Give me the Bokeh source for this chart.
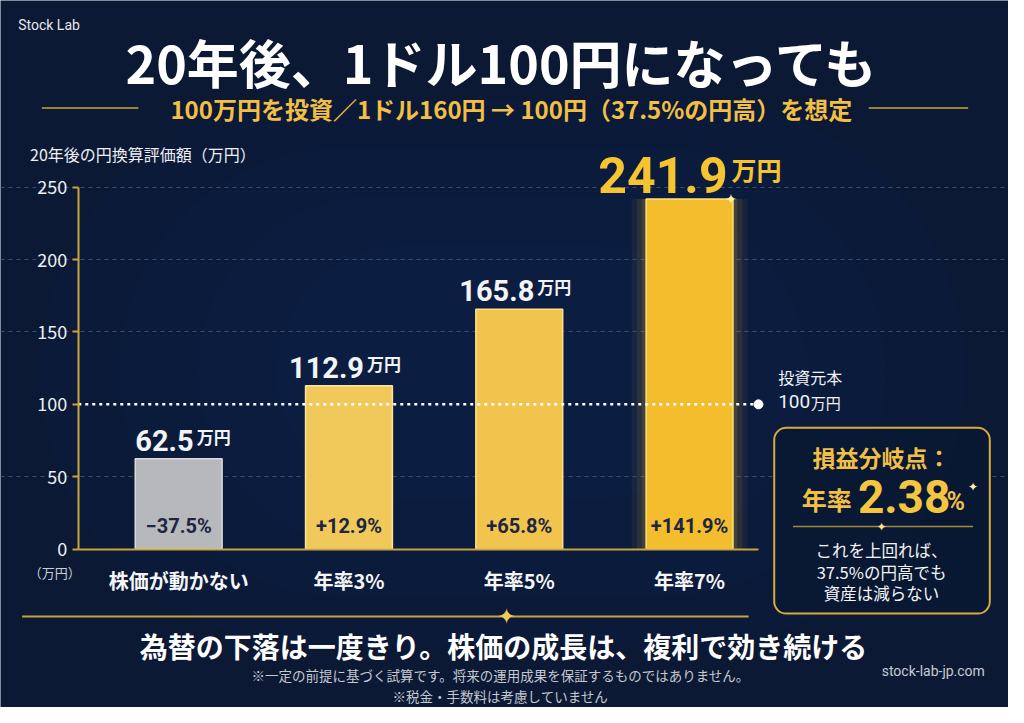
from bokeh.plotting import figure
from bokeh.models import (ColumnDataSource, Range1d, LinearAxis, FixedTicker,
                          Label, BoxAnnotation, Grid)
from bokeh.core.properties import value
from bokeh.embed import file_html
from bokeh.resources import INLINE

# data
categories = ["株価が動かない", "年率3%", "年率5%", "年率7%"]
values = [62.5, 112.9, 165.8, 241.9]       # 万円, after 20 years
y_ticks = [0, 50, 100, 150, 200, 250]
principal = 100                            # 投資元本
breakeven = "2.38"

changes = [f"{v - principal:+.1f}%".replace("-", "−") for v in values]
idx = list(range(len(categories)))

JP = "Noto Sans CJK JP"
NUM = "Roboto"
BG = "#0b1935"
GOLD = "#f2bf45"
AXIS_GOLD = "#caa43c"
W, H = 1008, 707

# layout was measured on a 1024x723 picture, squeeze it into the figure
SX, SY = W / 1024, H / 723
x0px, ppx = 181 * SX, (700 - 181) * SX / 3
y0px, ppy = 561 * SY, (561 - 191) * SY / 250
AXIS_X = (79 * SX - x0px) / ppx
END_X = (770 * SX - x0px) / ppx

p = figure(width=W, height=H, output_backend="svg", toolbar_location=None, tools="",
           x_range=Range1d(-x0px / ppx, (W - x0px) / ppx),
           y_range=Range1d(-(H - y0px) / ppy, y0px / ppy),
           x_axis_location=None, y_axis_location=None, min_border=0)
p.background_fill_color = BG
p.border_fill_color = BG
p.outline_line_color = None
p.xgrid.visible = False
p.ygrid.visible = False


# page furniture, positioned in the reference's pixels
def label(text, rx, ry, size, color="#ffffff", bold=False, align="center", font=JP):
    p.add_layout(Label(x=rx * SX, y=H - ry * SY, x_units="screen", y_units="screen",
                       text=text, text_font=font, text_font_size=f"{size}px",
                       text_color=color, text_font_style="bold" if bold else "normal",
                       text_align=align, text_baseline="middle"))


def box(x0, x1, y0, y1, color, alpha=1.0, level="annotation", **kw):
    p.add_layout(BoxAnnotation(left=x0 * SX, right=x1 * SX, top=H - y0 * SY,
                               bottom=H - y1 * SY, left_units="screen",
                               right_units="screen", top_units="screen",
                               bottom_units="screen", fill_color=color, fill_alpha=alpha,
                               level=level, **kw))


def rule(x0, x1, ry, thick=1.5, alpha=1.0):
    box(x0, x1, ry - thick / 2, ry + thick / 2, AXIS_GOLD, alpha, line_color=None)


# soft lighter glow in the middle of the page
for x0, x1, y0, y1, r in [(40, 980, 100, 660, 280), (120, 900, 150, 610, 230),
                          (200, 820, 200, 560, 180), (280, 740, 250, 510, 130)]:
    box(x0, x1, y0, y1, "#173a70", 0.06, level="underlay", line_color=None, border_radius=r)

grid = Grid(dimension=1, ticker=FixedTicker(ticks=[t for t in y_ticks if t not in (0, principal)]),
            bounds=(AXIS_X, END_X), grid_line_color="#3b4b6b", grid_line_dash="4 4",
            grid_line_width=1)
p.add_layout(grid, "center")

src = ColumnDataSource(dict(
    x=idx, top=values, chg=changes,
    fill=["#b7b8bb", "#f1c95a", "#f1c44e", "#f3bd2e"],
    line=["#dcdcdc", "#ffe39a", "#ffe08c", "#ffe27a"],
))
top_src = ColumnDataSource(dict(x=idx[-1:], top=values[-1:], num=[f"{values[-1]:.1f}"]))
rest_src = ColumnDataSource(dict(x=idx[:-1], top=values[:-1], num=[f"{v:.1f}" for v in values[:-1]]))

# glow behind the best bar
for w, a in [(0.68, 0.05), (0.62, 0.08), (0.56, 0.12)]:
    p.vbar(x="x", top="top", bottom=0, width=w, source=top_src, fill_color="#ffc62e",
           fill_alpha=a, line_color=None)

p.vbar(x="x", top="top", bottom=0, width=0.51, source=src, fill_color="fill",
       line_color="line", line_width=1.5)

# principal line
p.segment(x0=AXIS_X, y0=principal, x1=END_X, y1=principal, line_color="white",
          line_width=2.5, line_dash="3 4")
p.scatter(x=[END_X], y=[principal], size=9, color="white")

# value labels
p.text(x="x", y="top", text="num", source=rest_src, x_offset=15, y_offset=-8,
       text_align="right", text_baseline="bottom", text_font=value(NUM),
       text_font_style="bold", text_font_size="29px", text_color="#f2f3f5")
p.text(x="x", y="top", text=value("万円"), source=rest_src, x_offset=18, y_offset=-10,
       text_align="left", text_baseline="bottom", text_font=value(JP),
       text_font_style="bold", text_font_size="17px", text_color="#f2f3f5")
p.text(x="x", y="top", text="num", source=top_src, x_offset=38, y_offset=-6,
       text_align="right", text_baseline="bottom", text_font=value(NUM),
       text_font_style="bold", text_font_size="50px", text_color="#f6c431")
p.text(x="x", y="top", text=value("万円"), source=top_src, x_offset=42, y_offset=-12,
       text_align="left", text_baseline="bottom", text_font=value(JP),
       text_font_style="bold", text_font_size="25px", text_color="#f6c431")

# change labels inside bars
p.text(x="x", y=0, text="chg", source=src, y_offset=-23, text_align="center",
       text_baseline="middle", text_font=value(NUM), text_font_style="bold",
       text_font_size="20px", text_color="#1c2542")

# axes
yaxis = LinearAxis(fixed_location=AXIS_X, ticker=FixedTicker(ticks=y_ticks),
                   bounds=(y_ticks[0], y_ticks[-1]))
yaxis.axis_line_color = AXIS_GOLD
yaxis.axis_line_width = 2
yaxis.major_tick_line_color = AXIS_GOLD
yaxis.major_tick_line_width = 2
yaxis.major_tick_out = 6
yaxis.major_tick_in = 0
yaxis.minor_tick_line_color = None
yaxis.major_label_standoff = 5
yaxis.major_label_text_color = "#eef0f4"
yaxis.major_label_text_font = JP
yaxis.major_label_text_font_size = "18px"
p.add_layout(yaxis, "left")

xaxis = LinearAxis(fixed_location=0, ticker=FixedTicker(ticks=idx), bounds=(AXIS_X, END_X),
                   major_label_overrides={i: c for i, c in enumerate(categories)})
xaxis.axis_line_color = AXIS_GOLD
xaxis.axis_line_width = 2
xaxis.major_tick_line_color = None
xaxis.minor_tick_line_color = None
xaxis.major_label_standoff = 11
xaxis.major_label_text_color = "#f4f5f7"
xaxis.major_label_text_font = JP
xaxis.major_label_text_font_style = "bold"
xaxis.major_label_text_font_size = "20px"
p.add_layout(xaxis, "below")

label("Stock Lab", 18, 25, 14, color="#e6e8ec", align="left", font="Roboto")
label("20年後、1ドル100円になっても", 511, 62, 52, bold=True)
label("100万円を投資／1ドル160円 → 100円（37.5%の円高）を想定", 519, 110, 24,
      color=GOLD, bold=True)
rule(42, 140, 110)
rule(882, 983, 110)
label("20年後の円換算評価額（万円）", 30, 157, 16, color="#eef0f4", align="left")
label("（万円）", 55, 585, 13, color="#c9ced8")

label("投資元本", 790, 385, 16, color="#f0f2f5", align="left")
label("100", 790, 410, 19, color="#f0f2f5", align="left", font=NUM)
label("万円", 823, 411, 15, color="#f0f2f5", align="left")

# break-even box
box(786, 1005, 437, 627, "#0a1833", 0.95, line_color="#d9aa3c", line_alpha=1.0,
    line_width=2, border_radius=12)
label("損益分岐点：", 895, 467, 23, color=GOLD, bold=True)
label("年率", 814, 510, 25, color=GOLD, bold=True, align="left")
label(breakeven, 871, 507, 46, color="#f5c542", bold=True, align="left", font=NUM)
label("%", 961, 512, 25, color=GOLD, bold=True, align="left", font=NUM)
rule(805, 988, 538, alpha=0.8)
label("✦", 895, 538, 12, color="#ffe08a", font="DejaVu Sans")
label("これを上回れば、", 895, 562, 16.5, color="#f4f5f7")
label("37.5%の円高でも", 895, 584, 16.5, color="#f4f5f7")
label("資産は減らない", 895, 606, 16.5, color="#f4f5f7")

label("✦", 742, 203, 14, color="#fff1b0", font="DejaVu Sans")
label("✦", 988, 498, 12, color="#fff1b0", font="DejaVu Sans")

rule(22, 760, 630, thick=2)
label("✦", 514, 630, 22, color="#f5cc55", font="DejaVu Sans")
label("為替の下落は一度きり。株価の成長は、複利で効き続ける", 511, 660, 28, bold=True)
label("※一定の前提に基づく試算です。将来の運用成果を保証するものではありません。", 508, 690,
      13.5, color="#c4c8d0")
label("※税金・手数料は考慮していません", 508, 711, 13.5, color="#c4c8d0")
label("stock-lab-jp.com", 1000, 686, 14, color="#c8ccd4", align="right", font="Roboto")

open("out.html", "w").write(file_html(p, INLINE))
